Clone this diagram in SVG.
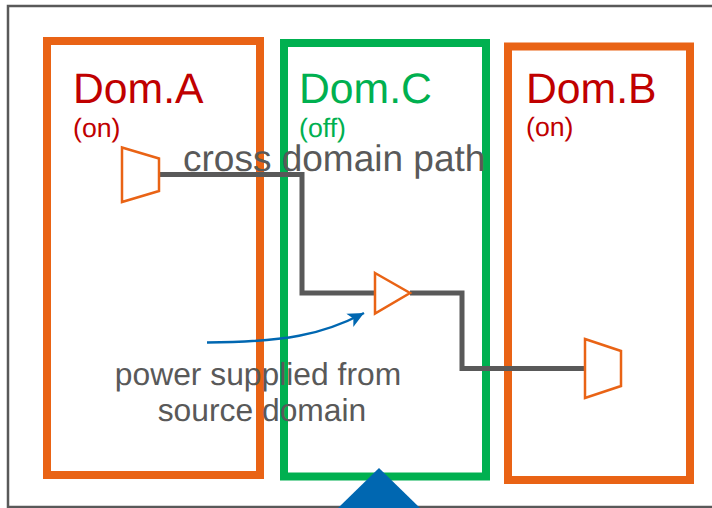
<svg xmlns="http://www.w3.org/2000/svg" width="712" height="508" viewBox="0 0 712 508">
<style>
text{font-family:"Liberation Sans",Arial,sans-serif;text-rendering:geometricPrecision}
.dom{fill:none;stroke-width:8}
.or{stroke:#E96315}
.gr{stroke:#00B050}
.cell{fill:#fff;stroke:#E96315;stroke-width:2.5}
.wire{fill:none;stroke:#595959;stroke-width:5}
.t1{font-size:42.700px}
.t2{font-size:26.700px}
.red{fill:#C00000}
.grn{fill:#00B050}
.lab{fill:#595959;font-size:37px}
.lab2{fill:#595959;font-size:31.800px;text-anchor:middle}
</style>
<defs><marker id="arr" markerUnits="userSpaceOnUse" markerWidth="18" markerHeight="18" refX="16" refY="8" orient="auto"><path d="M16,8L0,.5L4,8L0,15.500Z" fill="#0067B1"/></marker></defs>
<rect id="frame" x="8" y="6" width="720" height="501" fill="none" stroke="#595959" stroke-width="2.5"/>
<g id="dom-a"><rect class="dom or" x="47" y="41" width="213" height="434"/><text class="t1 red" x="73" y="103">Dom.A</text><text class="t2 red" x="73" y="137">(on)</text></g>
<g id="dom-c"><rect class="dom gr" x="284" y="43" width="202" height="433.500"/><text class="t1 grn" x="299" y="103">Dom.C</text><text class="t2 grn" x="299" y="137">(off)</text></g>
<g id="dom-b"><rect class="dom or" x="508" y="46.500" width="182" height="433.500"/><text class="t1 red" x="526" y="103">Dom.B</text><text class="t2 red" x="526" y="136">(on)</text></g>
<g id="connectors">
<path class="wire" d="M159,174.500H302V293H375"/>
<path class="wire" d="M410,293H462V368.500H585"/>
<path d="M207,342.500C285,342 322,335 364,313" fill="none" stroke="#0067B1" stroke-width="2.500" marker-end="url(#arr)"/>
</g>
<g id="mux-a"><path class="cell" d="M122,147.500L159,158.500V191L122,202Z"/></g>
<g id="buffer"><path class="cell" d="M375,273L410,293L375,313.500Z"/></g>
<g id="mux-b"><path class="cell" d="M585,339L621,351V386L585,398Z"/></g>
<g id="supply"><path d="M379,468L420,508H338Z" fill="#0067B1"/></g>
<text class="lab" x="183" y="171">cross domain path</text>
<text class="lab2"><tspan x="258" y="385">power supplied from</tspan><tspan x="262" y="421">source domain</tspan></text>
</svg>
